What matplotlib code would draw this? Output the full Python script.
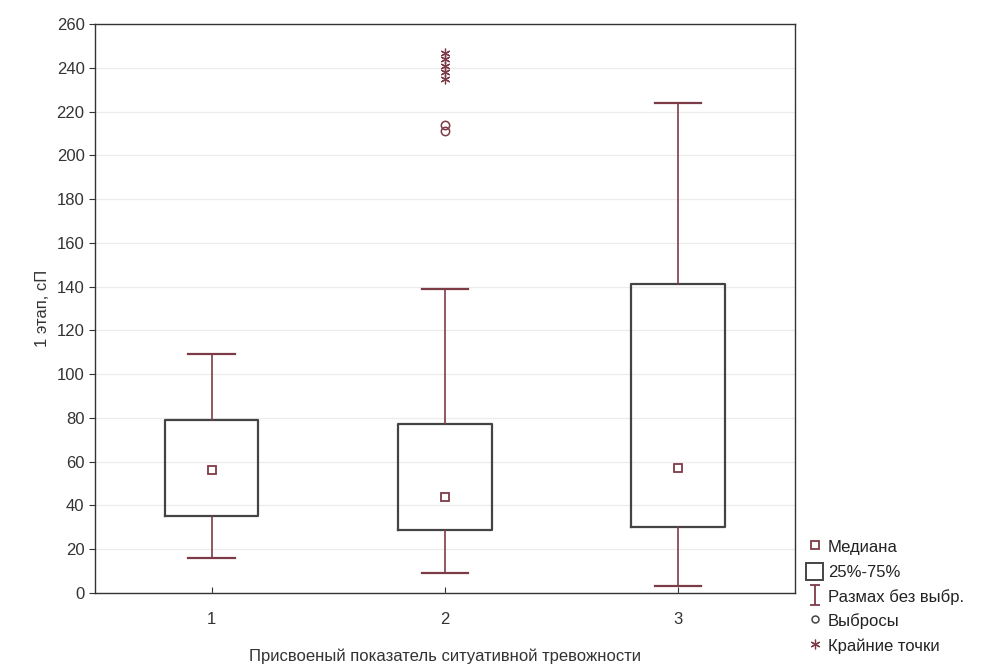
import matplotlib.pyplot as plt
from matplotlib.path import Path
from matplotlib.lines import Line2D
from matplotlib.patches import Rectangle

plt.rcParams['font.family'] = ['Liberation Sans', 'DejaVu Sans']

groups = [1, 2, 3]
medians = [56, 44, 57]
q1 = [35, 29, 30]
q3 = [79, 77, 141]
whislo = [16, 9, 3]
whishi = [109, 139, 224]
outliers = [[], [211, 214], []]
extremes = [[], [235, 238, 241, 244, 247], []]
yticks = list(range(0, 261, 20))

box_col = '#444444'
red_col = '#7d3b47'

# I-shaped marker for the whisker legend entry
imark = Path([(-0.5, -1), (0.5, -1), (0, -1), (0, 1), (-0.5, 1), (0.5, 1)],
             [Path.MOVETO, Path.LINETO, Path.MOVETO, Path.LINETO, Path.MOVETO, Path.LINETO])

fig = plt.figure(figsize=(10.04, 6.7), dpi=100)
ax = fig.add_axes([0.0946, 0.115, 0.697, 0.849])

stats = []
for i in range(len(groups)):
    stats.append(dict(med=medians[i], q1=q1[i], q3=q3[i], whislo=whislo[i],
                      whishi=whishi[i], fliers=[], label=str(groups[i])))

ax.bxp(stats, positions=groups, widths=0.4, showfliers=False,
       boxprops=dict(color=box_col, linewidth=1.6),
       whiskerprops=dict(color=red_col, linewidth=1.2),
       capprops=dict(color=red_col, linewidth=1.6),
       medianprops=dict(linewidth=0), capwidths=0.2)

ax.plot(groups, medians, linestyle='none', marker='s', markersize=6,
        markerfacecolor='white', markeredgecolor=red_col, markeredgewidth=1.3, zorder=3)
for g, vals in zip(groups, outliers):
    ax.plot([g] * len(vals), vals, linestyle='none', marker='o', markersize=6,
            markerfacecolor='none', markeredgecolor=red_col, markeredgewidth=1.1)
for g, vals in zip(groups, extremes):
    ax.plot([g] * len(vals), vals, linestyle='none', marker=(6, 2, 0), markersize=7,
            color=red_col, markeredgewidth=0.9)

ax.set_xlim(0.5, 3.5)
ax.set_ylim(0, 260)
ax.set_yticks(yticks)
ax.set_xticks(groups)
ax.set_xticklabels([str(g) for g in groups])
ax.yaxis.grid(True, color='#ececec', linewidth=0.9)
ax.set_axisbelow(True)
ax.tick_params(axis='both', labelsize=12, colors='#333333', length=4)
ax.tick_params(axis='x', direction='in', pad=14)
for s in ax.spines.values():
    s.set_color('#333333')
    s.set_linewidth(1.0)

ax.set_ylabel('1 этап, сП', fontsize=12, color='#333333', labelpad=5)
ax.set_xlabel('Присвоеный показатель ситуативной тревожности', fontsize=12,
              color='#333333', labelpad=15)

handles = [
    Line2D([], [], linestyle='none', marker='s', markersize=6, markerfacecolor='white',
           markeredgecolor=red_col, markeredgewidth=1.3),
    Rectangle((0, 0), 1, 1, facecolor='white', edgecolor=box_col, linewidth=1.4),
    Line2D([], [], linestyle='none', marker=imark, markersize=14, color=red_col,
           markeredgewidth=1.3),
    Line2D([], [], linestyle='none', marker='o', markersize=5, markerfacecolor='none',
           markeredgecolor=box_col, markeredgewidth=1.1),
    Line2D([], [], linestyle='none', marker=(6, 2, 0), markersize=7, color=red_col,
           markeredgewidth=0.9),
]
labels = ['Медиана', '25%-75%', 'Размах без выбр.', 'Выбросы', 'Крайние точки']
fig.legend(handles, labels, loc='lower left', bbox_to_anchor=(0.793, 0.009),
           frameon=False, fontsize=12, handlelength=1.0, handleheight=1.2,
           handletextpad=0.3, labelspacing=0.45, borderaxespad=0.2,
           labelcolor='#222222')

fig.savefig('out.png', dpi=100)
